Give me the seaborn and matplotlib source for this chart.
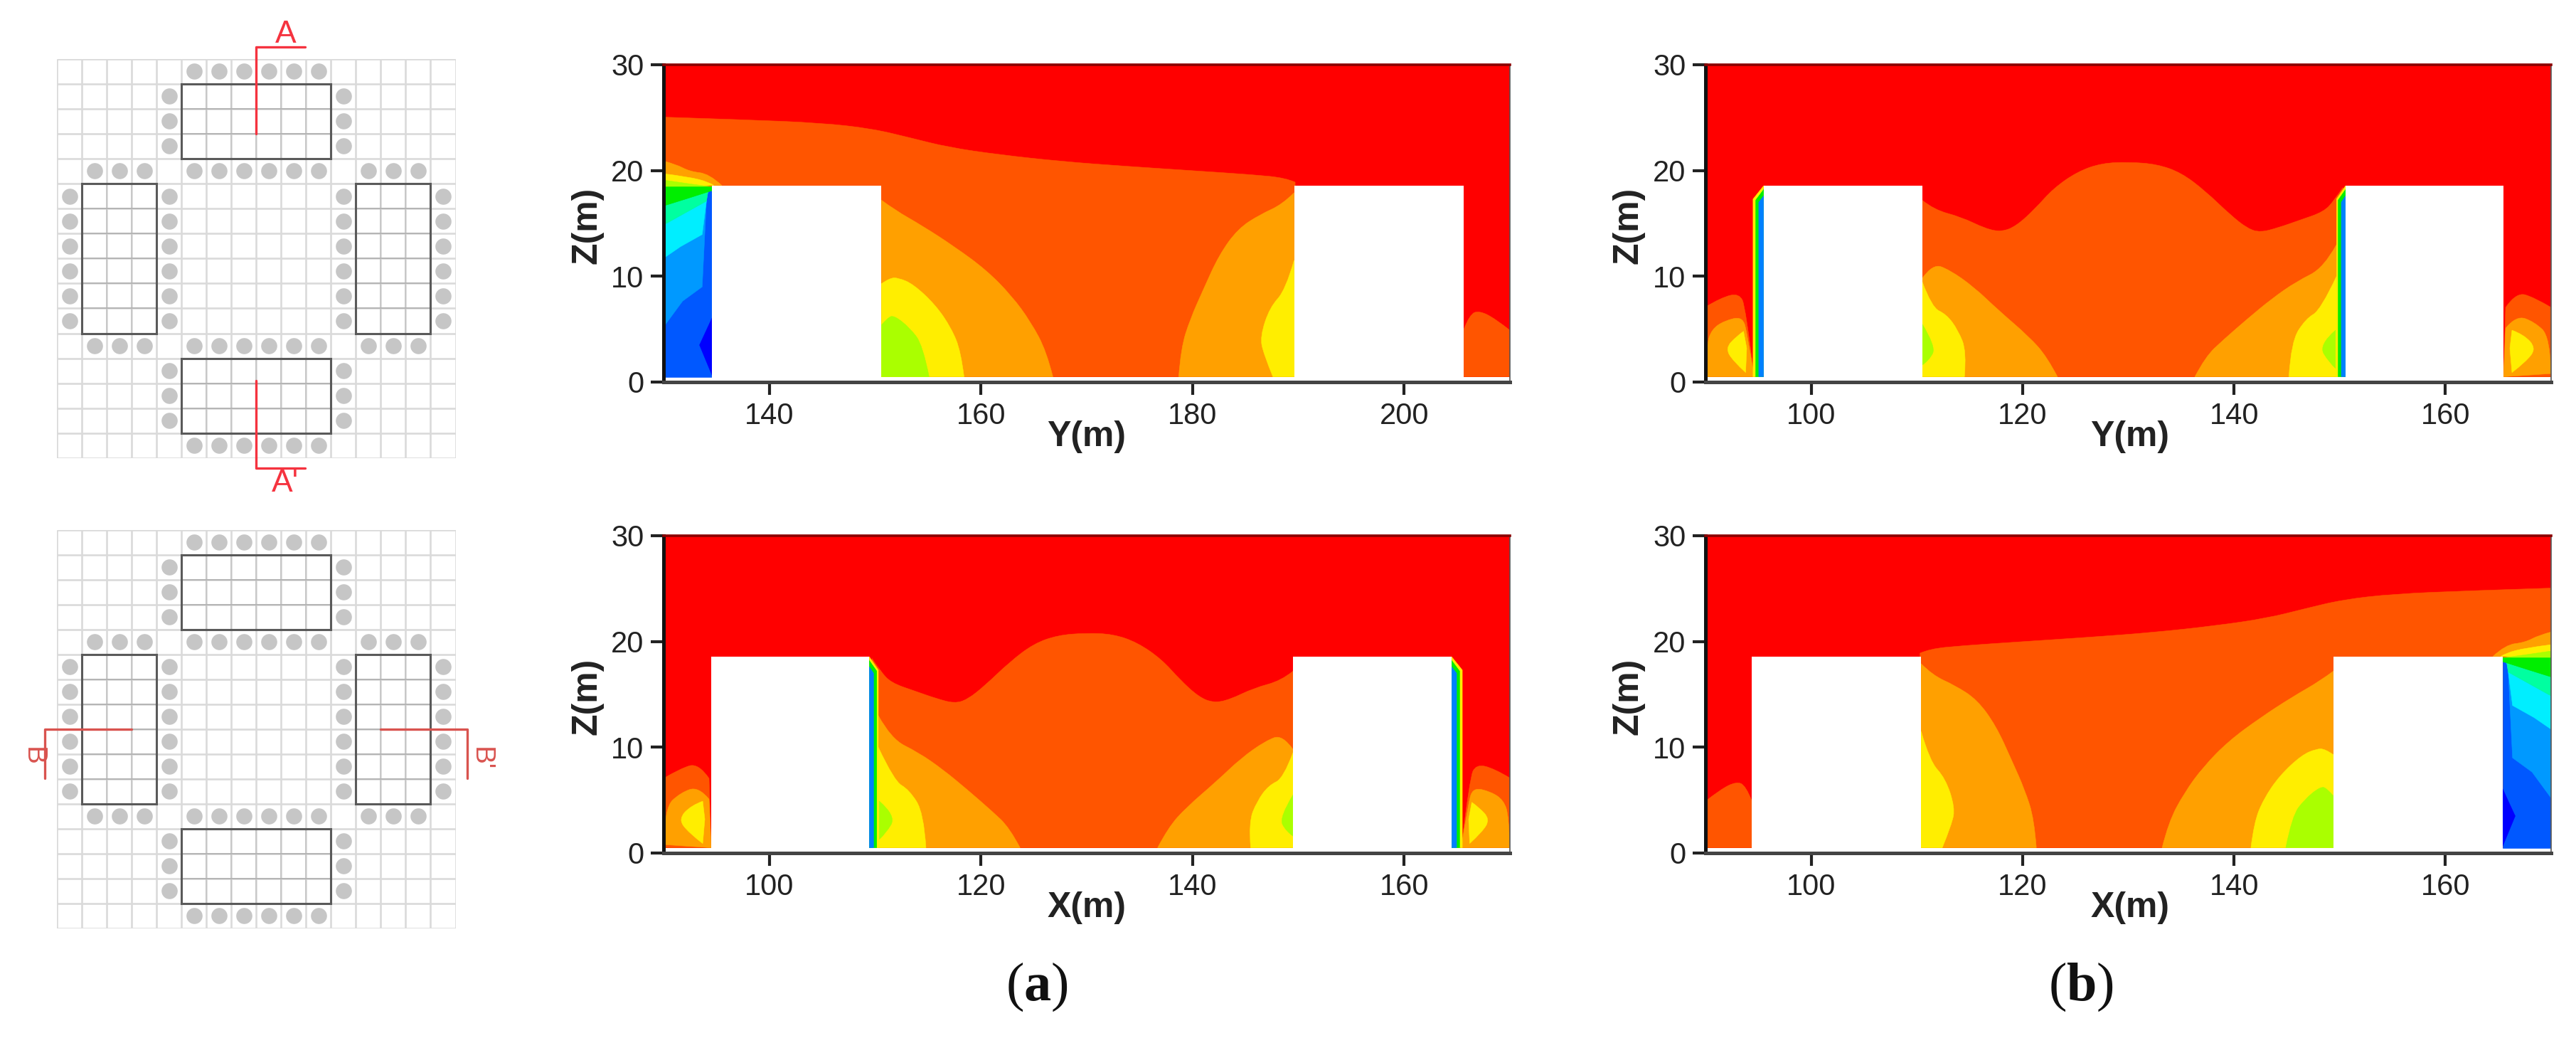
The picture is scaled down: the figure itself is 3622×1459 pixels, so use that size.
import matplotlib
matplotlib.use("Agg")
import matplotlib.pyplot as plt
from matplotlib.path import Path
from matplotlib.patches import PathPatch, Rectangle
import seaborn as sns
import pandas as pd

W, H = 3622, 1459
sns.set_theme(style="white")
plt.rcParams["font.family"] = ["Liberation Sans", "DejaVu Sans"]
plt.rcParams["mathtext.fontset"] = "custom"
plt.rcParams["mathtext.bf"] = "Liberation Serif:bold"
plt.rcParams["mathtext.rm"] = "Liberation Serif"

# colours of the contour bands
RED, ORED, ORANGE, YELLOW, YGREEN = "#FF0000", "#FF5500", "#FFA000", "#FFEE00", "#AAFF00"
GREEN, SPRING, CYAN, LBLUE, BLUE, DBLUE = "#00EE00", "#00FFA0", "#00EEFF", "#0099FF", "#0058FF", "#0000FF"

# ---- section A ----
A_XLIM, A_XTICKS = (130, 210), [140, 160, 180, 200]
A_BUILDINGS = [(134.6, 150.6), (189.6, 205.6)]
A_ORED = [(130, 25.05), (137.7, 24.8), (144.9, 24.5), (149.7, 23.96), (153.3, 23.1), (156.9, 22.2),
          (161.7, 21.5), (167.7, 20.85), (173.75, 20.4), (179.8, 20.0), (185.8, 19.6), (188.8, 19.3), (189.7, 18.9)]
A_ORED_END = [(189.7, 0.5), (130, 0.5)]
A_ORANGE_L = [(150.6, 17.2), (151.8, 16.3), (154.5, 14.75), (157.5, 12.8), (160.5, 10.6), (162.9, 8.16),
              (164.7, 5.7), (166.2, 2.9), (166.8, 0.5)]
A_ORANGE_L_END = [(150.6, 0.5)]
A_ORANGE_R = [(178.7, 0.5), (178.9, 3.2), (179.8, 6), (181, 8.7), (182.5, 12), (184.3, 14.5),
              (186.4, 15.85), (188.5, 16.8), (189.6, 17.9)]
A_ORANGE_R_END = [(189.7, 0.5)]
A_YELLOW_L = [(150.6, 9.3), (151.4, 9.85), (152.2, 9.85), (153.6, 9.26), (155.7, 7.3), (157.2, 5.1), (158.1, 2.9), (158.4, 0.5)]
A_YELLOW_L_END = [(150.6, 0.5)]
A_YGREEN_L = [(150.6, 5.4), (151.2, 6.1), (151.8, 6.3), (153.3, 5.1), (154.5, 3.5), (155.1, 0.5)]
A_YGREEN_L_END = [(150.6, 0.5)]
A_YELLOW_R = [(189.6, 11.5), (188.8, 8.7), (187.3, 7.06), (186.4, 4.3), (186.7, 2.7), (187.6, 0.5)]
A_YELLOW_R_END = [(189.7, 0.5)]
A_FAR = [(205.6, 4.9), (206.2, 6.4), (207.1, 6.75), (208.6, 6), (210, 4.9)]
A_FAR_END = [(210, 0.5), (205.6, 0.5)]
A_SLIT_WEDGE_O = [(130, 20.9), (131.15, 20.6), (132.5, 19.9), (134.3, 19.7), (135.5, 18.6)]
A_SLIT_WEDGE_Y = [(130, 19.7), (132.4, 19.4), (134.3, 18.9), (134.75, 18.6)]
A_SLIT_WEDGE_G = [(130, 19.1), (132.7, 18.7), (134.6, 18.45)]
A_SLIT_WEDGE_END = [(130, 18.45)]
A_SLIT_BASE = [(130, 0.5), (134.6, 0.5), (134.6, 18.1), (130, 18.1)]
A_SLIT_LBLUE = [(130, 5.2), (131.8, 7.65), (133.65, 9), (134.05, 17.1), (134.2, 18), (130, 18)]
A_SLIT_CYAN = [(130, 11.7), (131.6, 12.8), (133.65, 13.95), (134.05, 17.1), (130, 14.85)]
A_SLIT_SPRING = [(130, 14.85), (134.05, 17.1), (134.2, 18), (132.4, 17.4), (130, 16.65)]
A_SLIT_GREEN = [(130, 16.65), (132.4, 17.4), (134.6, 18.1), (134.6, 18.45), (130, 18.45)]
A_SLIT_DEEP = [(134.6, 6.1), (133.4, 3.5), (134.6, 0.6)]

# ---- section B ----
B_XLIM, B_XTICKS = (90, 170), [100, 120, 140, 160]
B_BUILDINGS = [(95.5, 110.5), (150.55, 165.5)]
B_ORED = [(110.5, 17.2), (111.6, 16.3), (114.2, 15.6), (116.5, 14.5), (118.0, 14.2), (119.4, 14.75),
          (121.2, 16.4), (122.9, 18.3), (125.2, 19.9), (127.5, 20.7), (130.1, 20.8), (132.7, 20.6),
          (135.0, 19.8), (137.3, 18.05), (139.6, 15.85), (141.3, 14.5), (142.5, 14.15), (144.2, 14.6),
          (146.2, 15.3), (148.5, 16.1), (149.5, 17.2), (150.3, 18.4)]
B_ORED_END = [(150.55, 0.5), (110.5, 0.5)]
B_ORANGE_L = [(110.5, 9.8), (111.5, 11.2), (113.1, 10.6), (115.4, 8.98), (117.7, 6.8), (120.6, 4.3),
              (122.3, 2.4), (123.3, 0.5)]
B_ORANGE_L_END = [(110.5, 0.5)]
B_ORANGE_R = [(136.3, 0.5), (137.3, 2.4), (139, 4.0), (141.3, 6), (143.6, 7.9), (145.9, 9.5),
              (148.5, 10.8), (149.7, 13)]
B_ORANGE_R_END = [(150.0, 0.5)]
B_YELLOW_L = [(110.5, 9.5), (111.4, 7.06), (112.8, 6.4), (113.9, 4.9), (114.7, 2.9), (114.5, 0.5)]
B_YELLOW_L_END = [(110.5, 0.5)]
B_YELLOW_R = [(145.2, 0.5), (145.4, 3.8), (146.8, 6), (148.2, 6.8), (149.7, 10)]
B_YELLOW_R_END = [(150.0, 0.5)]
B_YGREEN_L = [(110.5, 5.5), (111.8, 3.35), (111.2, 2.1), (110.5, 1.6)]
B_YGREEN_R = [(149.6, 4.9), (148.0, 3.5), (149.0, 1.85), (149.6, 1.3)]
B_FAR_L_ORED = [(90, 7.1), (91.5, 8.0), (93.2, 8.4), (93.8, 7.06), (94.6, 0.5)]
B_FAR_L_ORED_END = [(90, 0.5)]
B_FAR_L_ORANGE = [(90, 0.5), (90.1, 3.5), (90.6, 5), (91.8, 5.8), (93.5, 6.2), (93.95, 4.6), (94.6, 0.5)]
B_FAR_L_YELLOW = [(93.6, 4.8), (92.9, 4.3), (91.9, 3.2), (92.6, 2.0), (93.8, 0.9)]
B_FAR_L_YELLOW_END = [(93.9, 3.2)]
B_FAR_R_ORED = [(165.7, 7.06), (166.7, 8.5), (168.4, 8.0), (170, 7.06)]
B_FAR_R_END = [(170, 0.5), (165.5, 0.5)]
B_FAR_R_ORANGE = [(165.7, 5.1), (166.7, 6.3), (168.4, 5.7), (169.9, 4.3), (170, 0.8)]
B_FAR_R_YELLOW = [(166.3, 4.9), (167.4, 4.5), (168.6, 3.2), (167.6, 1.9), (166.3, 0.9)]
B_FAR_R_YELLOW_END = [(166.1, 3.2)]
B_SLIT1_Y = [(94.5, 17.3), (95.5, 18.55), (95.5, 0.5), (94.5, 0.5)]
B_SLIT1_G = [(94.75, 17.2), (95.5, 18.2), (95.5, 0.5), (94.75, 0.5)]
B_SLIT1_B = [(95.04, 17.0), (95.5, 17.6), (95.5, 0.5), (95.04, 0.5)]
B_SLIT2_Y = [(149.7, 17.3), (150.55, 18.55), (150.55, 0.5), (149.7, 0.5)]
B_SLIT2_G = [(149.85, 17.2), (150.55, 18.2), (150.55, 0.5), (149.85, 0.5)]
B_SLIT2_B = [(150.15, 17.0), (150.55, 17.6), (150.55, 0.5), (150.15, 0.5)]

BUILDING_TOP = 18.55
Z_TICKS = [0, 10, 20, 30]

# ---- plan view ----
PLAN_N = 16
PLAN_BLOCKS = [(5, 1, 11, 4), (1, 5, 4, 11), (12, 5, 15, 11), (5, 12, 11, 15)]
DOT_COLS = [[5, 6, 7, 8, 9, 10], [4, 11], [1, 2, 3, 5, 6, 7, 8, 9, 10, 12, 13, 14], [0, 4, 11, 15]]
DOT_ROWS = [[0, 15], [1, 2, 3, 12, 13, 14], [4, 11], [5, 6, 7, 8, 9, 10]]
SEC_A_TOP_X, SEC_A_TOP_Y = [9.97, 8, 8], [-0.47, -0.47, 3]
SEC_A_BOT_X, SEC_A_BOT_Y = [8, 8, 9.97], [12.9, 16.4, 16.4]
SEC_B_L_X, SEC_B_L_Y = [3, -0.49, -0.49], [8, 8, 9.97]
SEC_B_R_X, SEC_B_R_Y = [13, 16.46, 16.46], [8, 8, 9.97]


def axes_px(left, top, right, bottom):
    return fig.add_axes([left / W, 1 - bottom / H, (right - left) / W, (bottom - top) / H])


def band(ax, curve, end, color, m, smooth=True):
    pts = [(m - x if m else x, z) for x, z in curve]
    tail = [(m - x if m else x, z) for x, z in end]
    verts, codes = [pts[0]], [Path.MOVETO]
    if smooth and len(pts) > 2:
        for i in range(1, len(pts) - 1):
            nxt = pts[i + 1] if i == len(pts) - 2 else ((pts[i][0] + pts[i + 1][0]) / 2, (pts[i][1] + pts[i + 1][1]) / 2)
            verts += [pts[i], nxt]
            codes += [Path.CURVE3, Path.CURVE3]
    else:
        verts += pts[1:]
        codes += [Path.LINETO] * (len(pts) - 1)
    verts += tail + [pts[0]]
    codes += [Path.LINETO] * len(tail) + [Path.CLOSEPOLY]
    ax.add_patch(PathPatch(Path(verts, codes), facecolor=color, edgecolor=color, lw=0.4))


def frame(ax, xlim, xticks):
    ax.set_xlim(*xlim)
    ax.set_ylim(0, 30)
    ax.set_xticks(xticks)
    ax.set_yticks(Z_TICKS)
    ax.tick_params(axis="both", which="major", length=13, width=3, color="#222222", labelsize=30,
                   labelcolor="#222222", bottom=True, left=True, pad=7)
    ax.spines["left"].set(color="#111111", lw=3.6)
    ax.spines["bottom"].set(color="#444444", lw=3.6)
    ax.spines["top"].set(color="#8B0000", lw=2.6)
    ax.spines["right"].set(color="#555555", lw=1.2)
    ax.set_facecolor("white")


def labels(xlabel, label_x, ylabel_x, row_bottom):
    fig.text(label_x / W, 1 - (row_bottom + 77) / H, xlabel, fontsize=36, fontweight="bold",
             ha="center", va="center", color="#222222")
    fig.text(ylabel_x / W, 1 - (row_bottom - 220) / H, "Z(m)", fontsize=36, fontweight="bold",
             ha="center", va="center", rotation=90, color="#222222")


def buildings(ax, blocks, m):
    for a, b in blocks:
        x0, x1 = (m - b, m - a) if m else (a, b)
        ax.add_patch(Rectangle((x0, 0.4), x1 - x0, BUILDING_TOP - 0.4, facecolor="white", edgecolor="none"))


def panel_a(ax, m, xlabel, label_x, ylabel_x, row_bottom):
    lim = (90, 170) if m else A_XLIM
    ticks = B_XTICKS if m else A_XTICKS
    ax.add_patch(Rectangle((lim[0], 0.5), 80, 29.5, facecolor=RED, edgecolor="none"))
    band(ax, A_ORED, A_ORED_END, ORED, m)
    band(ax, A_ORANGE_L, A_ORANGE_L_END, ORANGE, m)
    band(ax, A_ORANGE_R, A_ORANGE_R_END, ORANGE, m)
    band(ax, A_YELLOW_L, A_YELLOW_L_END, YELLOW, m)
    band(ax, A_YGREEN_L, A_YGREEN_L_END, YGREEN, m)
    band(ax, A_YELLOW_R, A_YELLOW_R_END, YELLOW, m)
    band(ax, A_FAR, A_FAR_END, ORED, m)
    band(ax, A_SLIT_WEDGE_O, A_SLIT_WEDGE_END, ORANGE, m)
    band(ax, A_SLIT_WEDGE_Y, A_SLIT_WEDGE_END, YELLOW, m)
    band(ax, A_SLIT_WEDGE_G, A_SLIT_WEDGE_END, YGREEN, m)
    band(ax, A_SLIT_BASE, [], BLUE, m, smooth=False)
    band(ax, A_SLIT_LBLUE, [], LBLUE, m, smooth=False)
    band(ax, A_SLIT_CYAN, [], CYAN, m, smooth=False)
    band(ax, A_SLIT_SPRING, [], SPRING, m, smooth=False)
    band(ax, A_SLIT_GREEN, [], GREEN, m, smooth=False)
    band(ax, A_SLIT_DEEP, [], DBLUE, m, smooth=False)
    buildings(ax, A_BUILDINGS, m)
    frame(ax, lim, ticks)
    labels(xlabel, label_x, ylabel_x, row_bottom)


def panel_b(ax, m, xlabel, label_x, ylabel_x, row_bottom):
    ax.add_patch(Rectangle((90, 0.5), 80, 29.5, facecolor=RED, edgecolor="none"))
    band(ax, B_ORED, B_ORED_END, ORED, m)
    band(ax, B_ORANGE_L, B_ORANGE_L_END, ORANGE, m)
    band(ax, B_ORANGE_R, B_ORANGE_R_END, ORANGE, m)
    band(ax, B_YELLOW_L, B_YELLOW_L_END, YELLOW, m)
    band(ax, B_YELLOW_R, B_YELLOW_R_END, YELLOW, m)
    band(ax, B_YGREEN_L, [], YGREEN, m)
    band(ax, B_YGREEN_R, [], YGREEN, m)
    band(ax, B_FAR_L_ORED, B_FAR_L_ORED_END, ORED, m)
    band(ax, B_FAR_L_ORANGE, [], ORANGE, m)
    band(ax, B_FAR_L_YELLOW, B_FAR_L_YELLOW_END, YELLOW, m)
    band(ax, B_FAR_R_ORED, B_FAR_R_END, ORED, m)
    band(ax, B_FAR_R_ORANGE, B_FAR_R_END[1:], ORANGE, m)
    band(ax, B_FAR_R_YELLOW, B_FAR_R_YELLOW_END, YELLOW, m)
    for poly, col in [(B_SLIT1_Y, YELLOW), (B_SLIT1_G, GREEN), (B_SLIT1_B, "#0080FF"),
                      (B_SLIT2_Y, YELLOW), (B_SLIT2_G, GREEN), (B_SLIT2_B, "#0080FF")]:
        band(ax, poly, [], col, m, smooth=False)
    buildings(ax, B_BUILDINGS, m)
    frame(ax, B_XLIM, B_XTICKS)
    labels(xlabel, label_x, ylabel_x, row_bottom)


def plan(ax):
    grid = "#DADADA"
    ax.vlines(range(PLAN_N + 1), 0, PLAN_N, color=grid, lw=1.9, zorder=1)
    ax.hlines(range(PLAN_N + 1), 0, PLAN_N, color=grid, lw=1.9, zorder=1)
    for x0, y0, x1, y1 in PLAN_BLOCKS:
        ax.vlines(range(x0 + 1, x1), y0, y1, color="#C8C8C8", lw=1.4, zorder=1.5)
        ax.hlines(range(y0 + 1, y1), x0, x1, color="#B4B4B4", lw=1.4, zorder=1.5)
        ax.add_patch(Rectangle((x0, y0), x1 - x0, y1 - y0, facecolor="none", edgecolor="#5A5A5A", lw=2.2, zorder=2.5))
    dots = pd.DataFrame([(c + 0.5, r + 0.5) for cols, rows in zip(DOT_COLS, DOT_ROWS) for r in rows for c in cols],
                        columns=["x", "y"])
    sns.scatterplot(data=dots, x="x", y="y", ax=ax, s=265, color="#C6C6C6", linewidth=0, zorder=3, legend=False)


fig = plt.figure(figsize=(W / 100, H / 100), dpi=100, facecolor="white")

# plan views
ax1 = axes_px(80, 82.6, 640.5, 644)
plan(ax1)
for xs, ys in [(SEC_A_TOP_X, SEC_A_TOP_Y), (SEC_A_BOT_X, SEC_A_BOT_Y)]:
    sns.lineplot(x=xs, y=ys, ax=ax1, sort=False, estimator=None, color="#F5333F", lw=2.4, clip_on=False, zorder=4)
ax1.text(9.17, -0.96, "A", color="#F5333F", fontsize=32, ha="center", va="center")
ax1.text(9.17, 17.0, "A'", color="#F5333F", fontsize=32, ha="center", va="center")

ax2 = axes_px(80, 744.5, 640.5, 1305)
plan(ax2)
for xs, ys in [(SEC_B_L_X, SEC_B_L_Y), (SEC_B_R_X, SEC_B_R_Y)]:
    sns.lineplot(x=xs, y=ys, ax=ax2, sort=False, estimator=None, color="#D9534F", lw=2.4, clip_on=False, zorder=4)
ax2.text(-0.98, 9.09, "B", color="#D9534F", fontsize=28, ha="center", va="center", rotation=-90)
ax2.text(17.0, 9.2, "B'", color="#D9534F", fontsize=28, ha="center", va="center", rotation=-90)
for a in (ax1, ax2):
    a.set_xlim(0, PLAN_N)
    a.set_ylim(PLAN_N, 0)
    a.axis("off")

# contour sections
panel_a(axes_px(933, 91, 2123, 537), 0, "Y(m)", 1528, 825, 537)
panel_b(axes_px(2398, 91, 3587, 537), 0, "Y(m)", 2995, 2290, 537)
panel_b(axes_px(933, 753, 2123, 1199), 260, "X(m)", 1528, 825, 1199)
panel_a(axes_px(2398, 753, 3587, 1199), 300, "X(m)", 2995, 2290, 1199)

fig.text(1458 / W, 1 - 1387 / H, r"($\mathbf{a}$)", fontsize=55, ha="center", va="center", color="#111111",
         family="Liberation Serif")
fig.text(2926 / W, 1 - 1387 / H, r"($\mathbf{b}$)", fontsize=55, ha="center", va="center", color="#111111",
         family="Liberation Serif")

fig.savefig("out.png", dpi=100, facecolor="white")
